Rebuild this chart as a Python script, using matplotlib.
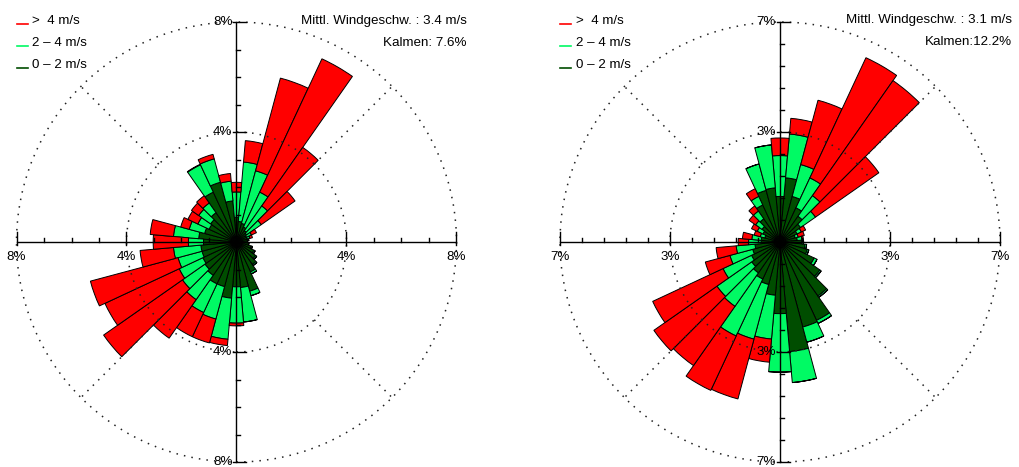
import numpy as np
import matplotlib
matplotlib.use("Agg")
import matplotlib.pyplot as plt
from matplotlib.patches import Circle
from matplotlib.lines import Line2D

plt.rcParams["font.family"] = ["Liberation Sans", "DejaVu Sans"]

# Sektormitten in Grad (36 Sektoren a 10 Grad)
richtung = np.arange(0, 360, 10)

# linke Windrose: Anteile in % je Sektor und Klasse
links_0_2 = [0.9, 0.75, 0.7, 0.6, 0.5, 0.45, 0.4, 0.4, 0.4, 0.4, 0.45, 0.55,
             0.7, 0.85, 1.0, 1.2, 1.85, 1.66, 1.63, 2.05, 1.68, 1.68, 1.48, 1.4,
             1.35, 1.3, 1.3, 1.2, 1.38, 1.2, 1.1, 1.15, 1.3, 2.0, 2.25, 1.5]
links_2_4 = [0.92, 2.17, 1.98, 1.4, 1.1, 0.65, 0.2, 0.1, 0.05, 0.0, 0.0, 0.05,
             0.05, 0.05, 0.05, 0.08, 0.17, 1.26, 1.32, 1.5, 1.22, 1.15, 1.08, 1.0,
             0.95, 0.9, 1.0, 0.55, 0.92, 0.58, 0.45, 0.53, 0.43, 1.1, 0.88, 0.72]
links_gt4 = [0.35, 0.78, 3.49, 5.35, 2.6, 1.5, 0.2, 0.1, 0.0, 0.0, 0.0, 0.0,
             0.0, 0.0, 0.0, 0.0, 0.0, 0.0, 0.1, 0.23, 0.9, 0.97, 1.71, 3.5,
             2.98, 3.3, 1.22, 1.28, 0.85, 0.32, 0.4, 0.32, 0.32, 0.02, 0.17, 0.28]

# rechte Windrose
rechts_0_2 = [1.45, 2.05, 1.5, 1.2, 1.0, 0.8, 0.6, 0.5, 0.55, 0.7, 0.8, 0.9,
              1.2, 1.55, 2.1, 2.75, 2.8, 3.5, 2.28, 1.7, 1.4, 1.3, 1.2, 1.1,
              1.0, 0.9, 0.8, 0.6, 0.6, 0.5, 0.6, 0.7, 0.9, 1.3, 1.7, 1.73]
rechts_2_4 = [1.3, 1.4, 1.05, 1.05, 0.8, 0.58, 0.15, 0.1, 0.15, 0.05, 0.05, 0.05,
              0.1, 0.05, 0.05, 0.11, 0.5, 0.99, 1.86, 1.4, 1.8, 2.0, 1.3, 1.35,
              1.0, 0.75, 0.6, 0.4, 0.3, 0.15, 0.2, 0.25, 0.3, 0.3, 0.87, 1.37]
rechts_gt4 = [0.56, 0.5, 2.12, 4.22, 4.47, 2.46, 0.15, 0.2, 0.05, 0.0, 0.0, 0.0,
              0.0, 0.0, 0.0, 0.0, 0.0, 0.0, 0.0, 0.74, 1.97, 1.91, 2.3, 2.45,
              2.47, 0.81, 0.64, 0.33, 0.3, 0.2, 0.2, 0.25, 0.2, 0.27, 0.0, 0.0]

klassen = [">  4 m/s", "2 \u2013 4 m/s", "0 \u2013 2 m/s"]
farben = ["#ff0000", "#00fa64", "#004d00"]  # rot, hellgruen, dunkelgruen

W, H = 1020, 467
R = 220  # Radius der Rosen in Pixel
fs = 9.6

fig = plt.figure(figsize=(W / 100, H / 100), dpi=100)


def rechteck(cx, cy):
    return [(cx - R) / W, 1 - (cy + R) / H, 2 * R / W, 2 * R / H]


def fx(x):
    return x / W


def fy(y):
    return 1 - y / H


def rose(cx, cy, schwach, mittel, stark, rmax, ringtext, aussentext, schritt):
    # Balken im Polarsystem
    pax = fig.add_axes(rechteck(cx, cy), projection="polar")
    pax.set_theta_zero_location("N")
    pax.set_theta_direction(-1)
    theta = np.deg2rad(richtung)
    unten = np.zeros(len(richtung))
    for werte, farbe in zip([schwach, mittel, stark], farben[::-1]):
        pax.bar(theta, werte, width=np.deg2rad(10), bottom=unten, color=farbe,
                edgecolor="black", linewidth=0.7)
        unten = unten + np.array(werte)
    pax.set_ylim(0, rmax)
    pax.axis("off")

    # Achsenkreuz, Kreise und Beschriftung obendrauf
    ax = fig.add_axes(rechteck(cx, cy))
    ax.set_xlim(-rmax, rmax)
    ax.set_ylim(-rmax, rmax)
    ax.axis("off")
    px = rmax / R
    punkte = dict(color="#222222", lw=1.1, ls=(0, (1, 4)), clip_on=False)
    for r in (rmax / 2, rmax):
        ax.add_patch(Circle((0, 0), r, fill=False, **punkte))
    for w in np.deg2rad([45, 135, 225, 315]):
        ax.plot([rmax / 2 * np.cos(w), rmax * np.cos(w)],
                [rmax / 2 * np.sin(w), rmax * np.sin(w)], **punkte)
    ax.plot([-rmax, rmax], [0, 0], color="black", lw=1, clip_on=False)
    ax.plot([0, 0], [-rmax, rmax], color="black", lw=1, clip_on=False)
    n = int(round(rmax / schritt))
    for k in range(1, n + 1):
        v = k * schritt
        gross = k % (n // 2) == 0
        lang = (10 if gross else 4) * px
        kurz = (3 if gross else 0) * px
        for s in (-1, 1):
            ax.plot([-kurz, lang], [s * v, s * v], color="black", lw=1, clip_on=False)
            ax.plot([s * v, s * v], [-kurz, lang], color="black", lw=1, clip_on=False)
    for s in (-1, 1):
        for r, txt in ((rmax / 2, ringtext), (rmax, aussentext)):
            ax.text(-4 * px, s * r, txt, ha="right", va="center", fontsize=fs)
            ax.text(s * r, -9 * px, txt, ha="center", va="top", fontsize=fs)


rose(236.5, 242, links_0_2, links_2_4, links_gt4, 8, "4%", "8%", 1.0)
rose(780, 242, rechts_0_2, rechts_2_4, rechts_gt4, 7, "3%", "7%", 0.7)

# Legenden
for x0, tx in ((17, 32), (560, 576)):
    for i, (txt, farbe) in enumerate(zip(klassen, farben)):
        yl = 24 + 22 * i
        fig.add_artist(Line2D([fx(x0), fx(x0 + 11)], [fy(yl), fy(yl)],
                              color=farbe, lw=1.2))
        fig.text(fx(tx), fy(yl - 3), txt, ha="left", va="center", fontsize=fs)

# Kennwerte
fig.text(fx(467), fy(21), "Mittl. Windgeschw. : 3.4 m/s", ha="right", va="center", fontsize=fs)
fig.text(fx(467), fy(43), "Kalmen: 7.6%", ha="right", va="center", fontsize=fs)
fig.text(fx(1012), fy(20), "Mittl. Windgeschw. : 3.1 m/s", ha="right", va="center", fontsize=fs)
fig.text(fx(1012), fy(42), "Kalmen:12.2%", ha="right", va="center", fontsize=fs)

fig.savefig("out.png", dpi=100)
